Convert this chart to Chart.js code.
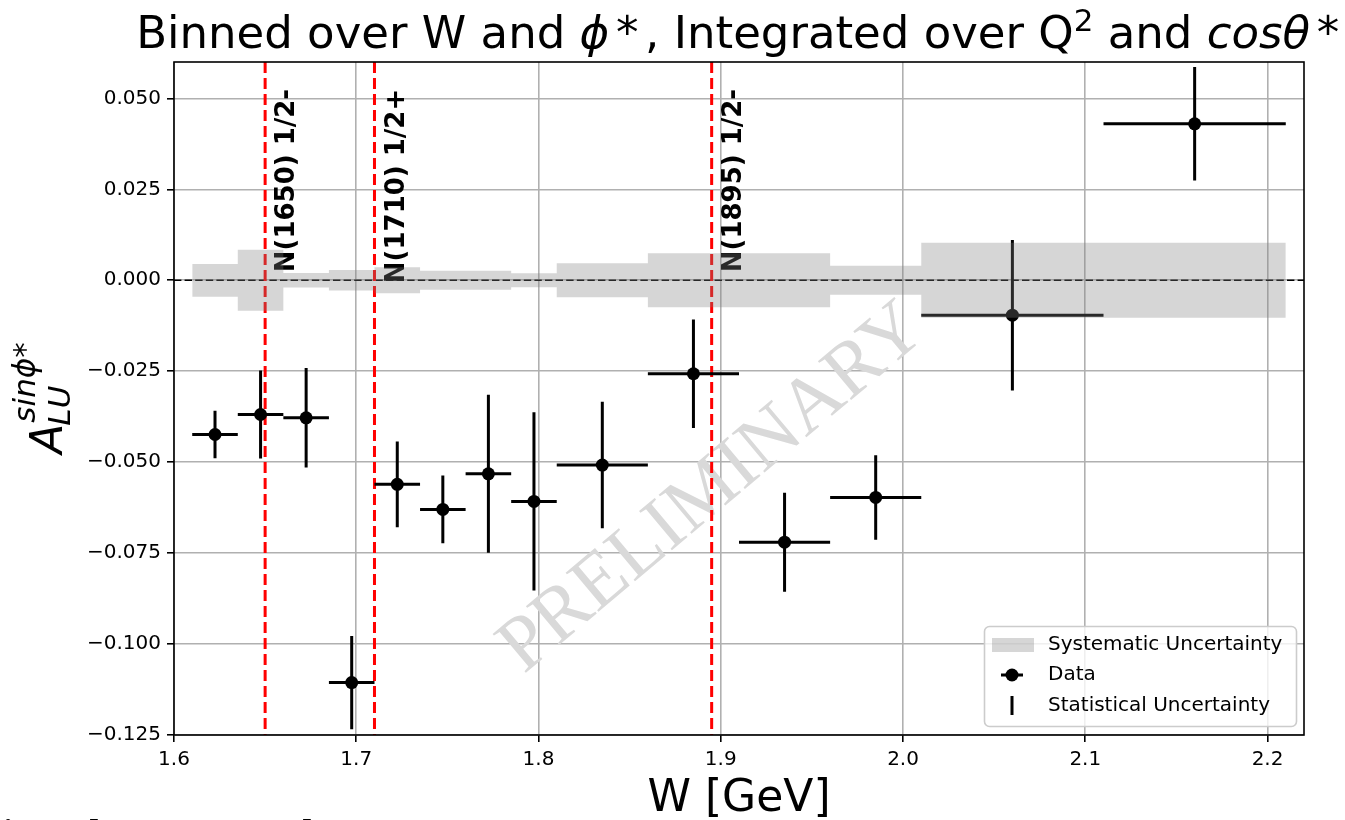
<!DOCTYPE html>
<html>
<head>
<meta charset="utf-8">
<title>A_LU sin phi* vs W</title>
<script src="https://cdn.jsdelivr.net/npm/chart.js@4.4.1/dist/chart.umd.min.js"></script>
<style>
  html, body { margin: 0; padding: 0; background: #fff; overflow: hidden; }
  #wrap { position: relative; width: 1345px; height: 820px; overflow: hidden; }
  #asymChart { display: block; }
  #slideText {
    position: absolute; left: -25px; top: 813px;
    font: bold 41px "Liberation Serif", serif; line-height: 41px;
    white-space: nowrap; color: #000;
  }
</style>
</head>
<body>
<div id="wrap">
  <canvas id="asymChart" width="1345" height="820"></canvas>
  <div id="slideText">Binned over W and φ*</div>
</div>
<script>
// W bins (GeV)
const binEdges = [1.61, 1.635, 1.66, 1.685, 1.71, 1.735, 1.76, 1.785, 1.81, 1.86, 1.91, 1.96, 2.01, 2.11, 2.21];
const wCenters = [1.6225, 1.6475, 1.6725, 1.6975, 1.7225, 1.7475, 1.7725, 1.7975, 1.835, 1.885, 1.935, 1.985, 2.06, 2.16];
const wHalfWidth = [0.0125, 0.0125, 0.0125, 0.0125, 0.0125, 0.0125, 0.0125, 0.0125, 0.025, 0.025, 0.025, 0.025, 0.05, 0.05];

// asymmetry + uncertainties
const asymValues = [-0.0424, -0.0369, -0.0378, -0.1106, -0.0561, -0.0630, -0.0532, -0.0608, -0.0508, -0.0257, -0.0720, -0.0597, -0.0096, 0.0430];
const statErrors = [0.0065, 0.0121, 0.0137, 0.0128, 0.0118, 0.0093, 0.0217, 0.0245, 0.0174, 0.0149, 0.0136, 0.0116, 0.0207, 0.0156];
const sysErrors = [0.0045, 0.0084, 0.0020, 0.0028, 0.0036, 0.0026, 0.0026, 0.0019, 0.0047, 0.0074, 0.0074, 0.0040, 0.0103, 0.0103];

// resonances
const resonanceW = [1.65, 1.71, 1.895];
const resonanceNames = ['N(1650) 1/2-', 'N(1710) 1/2+', 'N(1895) 1/2-'];
const resonanceLabelY = [0.0022, -0.0008, 0.0022];

const xTicks = [1.6, 1.7, 1.8, 1.9, 2.0, 2.1, 2.2];
const yTicks = [-0.125, -0.1, -0.075, -0.05, -0.025, 0, 0.025, 0.05];

const FONT = '"DejaVu Sans", sans-serif';

// step outline of the systematic band (last edge repeats last bin)
const sysUpper = binEdges.map((e, i) => ({ x: e, y: sysErrors[Math.min(i, sysErrors.length - 1)] }));
const sysLower = binEdges.map((e, i) => ({ x: e, y: -sysErrors[Math.min(i, sysErrors.length - 1)] }));
const points = wCenters.map((w, i) => ({ x: w, y: asymValues[i] }));

// mixed-style text row, centred on x
function richWidth(ctx, parts, size) {
  let w = 0;
  parts.forEach(p => {
    ctx.font = (p.it ? 'italic ' : '') + Math.round(size * (p.sc || 1)) + 'px ' + FONT;
    w += ctx.measureText(p.t).width + (p.pad || 0) * size;
  });
  return w;
}
function drawRich(ctx, parts, x, y, size) {
  let cx = x - richWidth(ctx, parts, size) / 2;
  parts.forEach(p => {
    ctx.font = (p.it ? 'italic ' : '') + Math.round(size * (p.sc || 1)) + 'px ' + FONT;
    cx += (p.pad || 0) * size / 2;
    ctx.fillText(p.t, cx, y + (p.dy || 0));
    cx += ctx.measureText(p.t).width + (p.pad || 0) * size / 2;
  });
}

const decorPlugin = {
  id: 'decor',
  beforeDatasetsDraw(chart) {
    const ctx = chart.ctx;
    ctx.save();
    ctx.translate(713, 489);
    ctx.rotate(-40 * Math.PI / 180);
    ctx.font = '78px "Liberation Serif", serif';
    ctx.fillStyle = '#d9d9d9';
    ctx.textAlign = 'center';
    ctx.textBaseline = 'middle';
    ctx.fillText('PRELIMINARY', 0, 0);
    ctx.restore();
  },
  beforeDatasetDraw(chart, args) {
    if (args.index !== 2) return;
    const ctx = chart.ctx, xs = chart.scales.x, ys = chart.scales.y, a = chart.chartArea;
    ctx.save();
    // zero line
    ctx.strokeStyle = '#000';
    ctx.lineWidth = 1.6;
    ctx.setLineDash([7.4, 3.2]);
    ctx.beginPath();
    ctx.moveTo(a.left, ys.getPixelForValue(0));
    ctx.lineTo(a.right, ys.getPixelForValue(0));
    ctx.stroke();
    // resonance lines
    ctx.strokeStyle = '#ff0000';
    ctx.lineWidth = 3;
    ctx.setLineDash([11, 5]);
    resonanceW.forEach(w => {
      const px = xs.getPixelForValue(w);
      ctx.beginPath();
      ctx.moveTo(px, a.top);
      ctx.lineTo(px, a.bottom);
      ctx.stroke();
    });
    ctx.setLineDash([]);
    ctx.fillStyle = '#000';
    ctx.font = 'bold 26px ' + FONT;
    ctx.textAlign = 'left';
    ctx.textBaseline = 'alphabetic';
    resonanceW.forEach((w, i) => {
      ctx.save();
      ctx.translate(xs.getPixelForValue(w + 0.005) + 20, ys.getPixelForValue(resonanceLabelY[i]));
      ctx.rotate(-Math.PI / 2);
      ctx.fillText(resonanceNames[i], 0, 0);
      ctx.restore();
    });
    // error bars
    ctx.strokeStyle = '#000';
    ctx.lineWidth = 3;
    wCenters.forEach((w, i) => {
      const px = xs.getPixelForValue(w), py = ys.getPixelForValue(asymValues[i]);
      ctx.beginPath();
      ctx.moveTo(xs.getPixelForValue(w - wHalfWidth[i]), py);
      ctx.lineTo(xs.getPixelForValue(w + wHalfWidth[i]), py);
      ctx.moveTo(px, ys.getPixelForValue(asymValues[i] - statErrors[i]));
      ctx.lineTo(px, ys.getPixelForValue(asymValues[i] + statErrors[i]));
      ctx.stroke();
    });
    ctx.restore();
  },
  afterDatasetsDraw(chart) {
    const ctx = chart.ctx, a = chart.chartArea;
    ctx.save();
    // frame
    ctx.strokeStyle = '#000';
    ctx.lineWidth = 1.6;
    ctx.strokeRect(a.left, a.top, a.right - a.left, a.bottom - a.top);

    // legend box
    const lx = 984.5, ly = 626.5, lw = 312, lh = 100, r = 5;
    ctx.beginPath();
    ctx.moveTo(lx + r, ly);
    ctx.arcTo(lx + lw, ly, lx + lw, ly + lh, r);
    ctx.arcTo(lx + lw, ly + lh, lx, ly + lh, r);
    ctx.arcTo(lx, ly + lh, lx, ly, r);
    ctx.arcTo(lx, ly, lx + lw, ly, r);
    ctx.closePath();
    ctx.fillStyle = 'rgba(255,255,255,0.8)';
    ctx.fill();
    ctx.strokeStyle = '#cccccc';
    ctx.lineWidth = 1.6;
    ctx.stroke();

    ctx.fillStyle = 'rgba(128,128,128,0.32)';
    ctx.fillRect(992, 638, 42, 14);
    ctx.fillStyle = '#000';
    ctx.strokeStyle = '#000';
    ctx.lineWidth = 3;
    ctx.beginPath();
    ctx.moveTo(1001, 675); ctx.lineTo(1023, 675);
    ctx.moveTo(1012, 696); ctx.lineTo(1012, 715);
    ctx.stroke();
    ctx.beginPath();
    ctx.arc(1012, 675, 6.5, 0, Math.PI * 2);
    ctx.fill();

    ctx.font = '20px ' + FONT;
    ctx.textAlign = 'left';
    ctx.textBaseline = 'middle';
    ctx.fillText('Systematic Uncertainty', 1048, 645);
    ctx.fillText('Data', 1048, 675);
    ctx.fillText('Statistical Uncertainty', 1048, 706);
    ctx.restore();
  },
  afterDraw(chart) {
    const ctx = chart.ctx, a = chart.chartArea;
    const mid = (a.left + a.right) / 2;
    ctx.save();
    ctx.fillStyle = '#000';
    ctx.textAlign = 'left';
    ctx.textBaseline = 'alphabetic';
    // title
    drawRich(ctx, [
      { t: 'Binned over W and ' },
      { t: 'ϕ', it: true },
      { t: '*', pad: 0.3 },
      { t: ', Integrated over Q' },
      { t: '2', sc: 0.7, dy: -17 },
      { t: ' and ' },
      { t: 'cosθ', it: true },
      { t: '*', pad: 0.3 }
    ], mid + 2, 48, 44.6);
    // x label
    drawRich(ctx, [{ t: 'W [GeV]' }], mid, 811, 44);
    // y label
    ctx.translate(62, (a.top + a.bottom) / 2);
    ctx.rotate(-Math.PI / 2);
    ctx.font = 'italic 44px ' + FONT;
    const wA = ctx.measureText('A').width;
    ctx.font = 'italic 31px ' + FONT;
    const wSup = ctx.measureText('sinϕ*').width, wSub = ctx.measureText('LU').width;
    const x0 = -(wA + Math.max(wSup, wSub)) / 2;
    ctx.font = 'italic 44px ' + FONT;
    ctx.fillText('A', x0, 0);
    ctx.font = 'italic 31px ' + FONT;
    ctx.fillText('sinϕ*', x0 + wA + 1, -27);
    ctx.fillText('LU', x0 + wA - 2, 8);
    ctx.restore();
  }
};

new Chart(document.getElementById('asymChart'), {
  type: 'scatter',
  data: {
    datasets: [
      {
        type: 'line', label: 'sys+', data: sysUpper, stepped: true,
        borderColor: 'transparent', borderWidth: 0, pointRadius: 0, fill: false
      },
      {
        type: 'line', label: 'Systematic Uncertainty', data: sysLower, stepped: true,
        borderColor: 'transparent', borderWidth: 0, pointRadius: 0,
        fill: '-1', backgroundColor: 'rgba(128,128,128,0.32)'
      },
      {
        label: 'Data', data: points,
        pointRadius: 6.5, pointBackgroundColor: '#000', pointBorderWidth: 0, borderColor: '#000'
      }
    ]
  },
  options: {
    responsive: false,
    animation: false,
    devicePixelRatio: 1,
    layout: { padding: { left: 0, right: 41, top: 62, bottom: 0 } },
    plugins: { legend: { display: false }, title: { display: false }, tooltip: { enabled: false } },
    scales: {
      x: {
        type: 'linear', min: 1.6, max: 2.22,
        afterBuildTicks: s => { s.ticks = xTicks.map(v => ({ value: v })); },
        afterFit: s => { s.height = 85; },
        grid: { color: '#b0b0b0', lineWidth: 1.6, tickColor: '#000', tickLength: 7, tickWidth: 1.6 },
        border: { display: false },
        ticks: {
          color: '#000', padding: 6, maxRotation: 0, autoSkip: false,
          font: { family: FONT, size: 20 },
          callback: v => v.toFixed(1)
        }
      },
      y: {
        type: 'linear', min: -0.125, max: 0.06,
        afterBuildTicks: s => { s.ticks = yTicks.map(v => ({ value: v })); },
        afterFit: s => { s.width = 174; },
        grid: { color: '#b0b0b0', lineWidth: 1.6, tickColor: '#000', tickLength: 7, tickWidth: 1.6 },
        border: { display: false },
        ticks: {
          color: '#000', padding: 6, autoSkip: false,
          font: { family: FONT, size: 20 },
          callback: v => v.toFixed(3).replace('-', '\u2212')
        }
      }
    }
  },
  plugins: [decorPlugin]
});
</script>
</body>
</html>
